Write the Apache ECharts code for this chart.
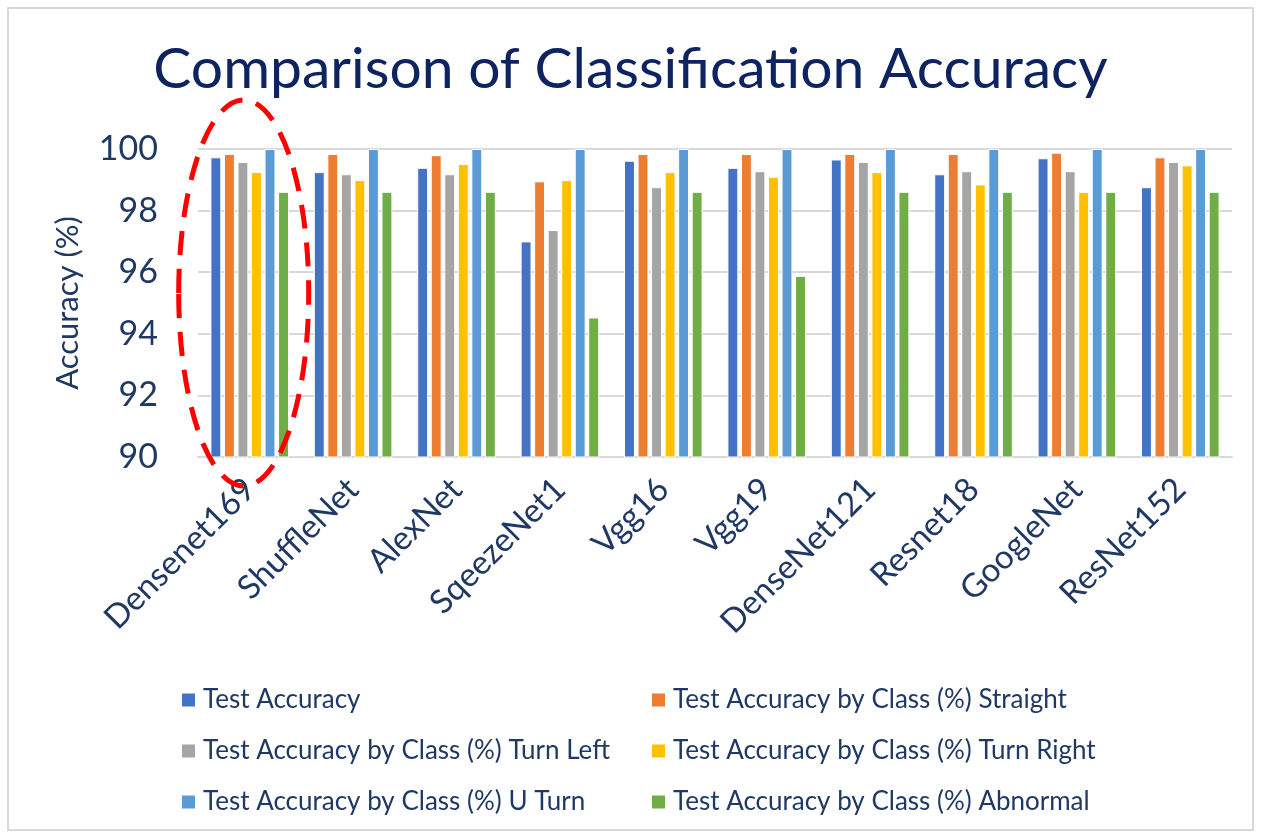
<!DOCTYPE html>
<html>
<head>
<meta charset="utf-8">
<style>
  html, body { margin: 0; padding: 0; background: #fff; }
  #chart { width: 1261px; height: 838px; }
</style>
<script src="https://cdn.jsdelivr.net/npm/echarts@6/dist/echarts.min.js"></script>
</head>
<body>
<div id="chart"></div>
<script>
// Models compared
const models = ['Densenet169', 'ShuffleNet', 'AlexNet', 'SqeezeNet1', 'Vgg16', 'Vgg19',
                'DenseNet121', 'Resnet18', 'GoogleNet', 'ResNet152'];

// Accuracy values (%) per model
const testAccuracy = [99.73, 99.25, 99.39, 97.00, 99.62, 99.39, 99.66, 99.18, 99.70, 98.76];
const straight     = [99.84, 99.84, 99.80, 98.95, 99.84, 99.84, 99.84, 99.84, 99.88, 99.73];
const turnLeft     = [99.58, 99.18, 99.18, 97.37, 98.76, 99.28, 99.58, 99.28, 99.28, 99.58];
const turnRight    = [99.25, 98.99, 99.51, 98.99, 99.25, 99.10, 99.25, 98.85, 98.61, 99.47];
const uTurn        = [100, 100, 100, 100, 100, 100, 100, 100, 100, 100];
const abnormal     = [98.61, 98.61, 98.61, 94.53, 98.61, 95.88, 98.61, 98.61, 98.61, 98.61];

const seriesNames = [
  'Test Accuracy',
  'Test Accuracy by Class (%) Straight',
  'Test Accuracy by Class (%) Turn Left',
  'Test Accuracy by Class (%) Turn Right',
  'Test Accuracy by Class (%) U Turn',
  'Test Accuracy by Class (%) Abnormal'
];
const seriesData = [testAccuracy, straight, turnLeft, turnRight, uTurn, abnormal];
const colors = ['#4472C4', '#ED7D31', '#A5A5A5', '#FFC000', '#5B9BD5', '#70AD47'];

const yTicks = { min: 90, max: 100, step: 2 };

const textColor = '#1F3864';
const fontFam = 'Lato, "Open Sans", sans-serif';

const chart = echarts.init(document.getElementById('chart'));

const legendCommon = {
  orient: 'vertical',
  top: 682,
  itemGap: 25,
  itemWidth: 15,
  itemHeight: 15,
  icon: 'rect',
  textStyle: { color: textColor, fontSize: 26, lineHeight: 26, fontFamily: fontFam, padding: [0, 0, 0, 2] }
};

chart.setOption({
  animation: false,
  color: colors,
  title: {
    text: 'Comparison of Classification Accuracy',
    left: 'center',
    top: 36,
    textStyle: { color: '#0E2460', fontSize: 57, fontWeight: 'normal', fontFamily: fontFam }
  },
  legend: [
    Object.assign({}, legendCommon, { left: 175, data: [seriesNames[0], seriesNames[2], seriesNames[4]] }),
    Object.assign({}, legendCommon, { left: 645, data: [seriesNames[1], seriesNames[3], seriesNames[5]] })
  ],
  grid: { left: 198, right: 29, top: 149, bottom: 381 },
  xAxis: {
    type: 'category',
    data: models,
    axisLine: { lineStyle: { color: '#D9D9D9', width: 2 } },
    axisTick: { show: false },
    axisLabel: {
      rotate: 45,
      color: textColor,
      fontSize: 33,
      fontFamily: fontFam,
      margin: 27,
      interval: 0
    }
  },
  yAxis: {
    type: 'value',
    min: yTicks.min,
    max: yTicks.max,
    interval: yTicks.step,
    name: 'Accuracy (%)',
    nameLocation: 'middle',
    nameGap: 115,
    nameTextStyle: { color: textColor, fontSize: 31, fontFamily: fontFam },
    axisLine: { show: false },
    axisTick: { show: false },
    axisLabel: { color: textColor, fontSize: 34, fontFamily: fontFam, margin: 40 },
    splitLine: { lineStyle: { color: '#D9D9D9', width: 2 } }
  },
  series: seriesData.map((d, i) => ({
    name: seriesNames[i],
    type: 'bar',
    data: d,
    barGap: '24%',
    barCategoryGap: '24%',
    itemStyle: { color: colors[i], borderColor: '#ffffff', borderWidth: 1 }
  }))
});

// Dashed ellipse highlighting the first model group, plus the outer frame
const c = chart.convertToPixel({ xAxisIndex: 0, yAxisIndex: 0 }, [0, 95]);
chart.setOption({
  graphic: [
    {
      type: 'rect',
      shape: { x: 8, y: 8, width: 1245, height: 822 },
      style: { fill: 'none', stroke: '#D9D9D9', lineWidth: 2 },
      silent: true
    },
    {
      type: 'ellipse',
      shape: { cx: c[0] - 6, cy: c[1] - 10, rx: 65, ry: 193 },
      style: { fill: 'none', stroke: '#FF0000', lineWidth: 5, lineDash: [24, 14] },
      silent: true,
      z: 100
    }
  ]
});
</script>
</body>
</html>
